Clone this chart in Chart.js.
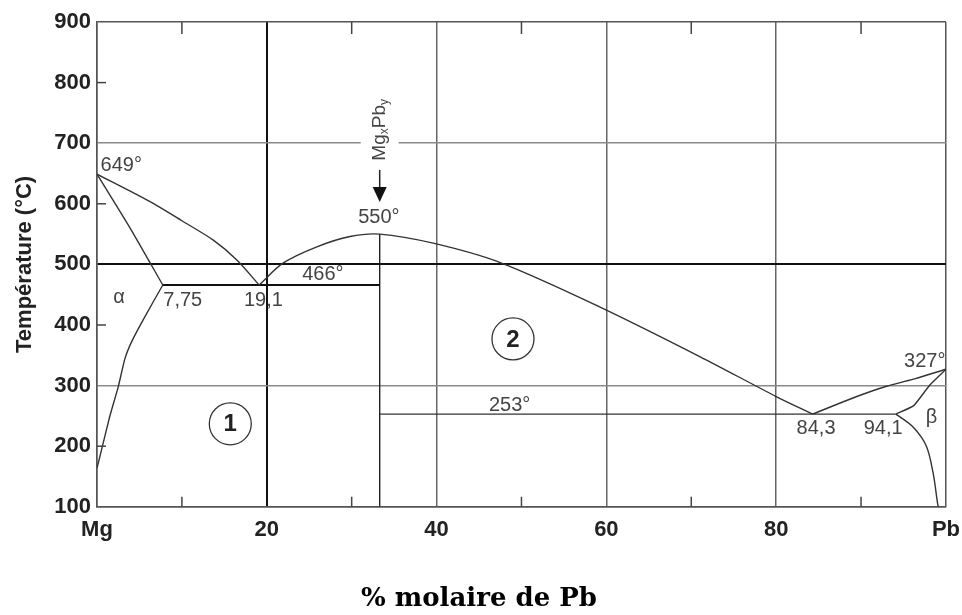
<!DOCTYPE html>
<html>
<head>
<meta charset="utf-8">
<script src="https://cdn.jsdelivr.net/npm/chart.js@4.4.0/dist/chart.umd.min.js"></script>
<style>
  html, body { margin: 0; background: #fff; }
</style>
</head>
<body>
<canvas id="phase" width="962" height="615"></canvas>
<script>
// axis labels
const xTickLabels = ['Mg', '20', '40', '60', '80', 'Pb'];
const minorX = [10, 30, 50, 70, 90];
const minorY = [200, 400, 600, 800];

// phase boundaries [% Pb, °C]
const liquidusMg = [[0, 649], [6.2, 604], [10, 572], [13.7, 540], [16.5, 507], [19.1, 466]];
const solidusAlpha = [[0, 649], [3.9, 560], [7.75, 466]];
const solvusAlpha = [[0, 164], [0.15, 172], [1.5, 249], [2.5, 298], [3.3, 345], [4.1, 373], [5.45, 409], [7.75, 466]];
const liquidusMid = [[19.1, 466], [21.9, 502], [25.9, 529], [29.8, 546], [33.3, 550], [39.6, 535], [47.5, 503], [59.2, 430], [71, 348], [80, 282], [84.3, 253]];
const liquidusPb = [[84.3, 253], [89.5, 282], [93, 299], [96.5, 312], [100, 327]];
const solidusBeta = [[94.1, 253], [96.2, 267], [98.1, 301], [100, 327]];
const solvusBeta = [[94.1, 253], [96.1, 232], [97.7, 200], [98.5, 155], [99.0, 107], [99.1, 100]];
const eutectic466 = [[7.75, 466], [33.3, 466]];
const eutectic253 = [[33.3, 253], [94.1, 253]];
const compoundLine = [[33.3, 100], [33.3, 550]];

// annotations (data coordinates)
const noteText = ['649°', '7,75', '19,1', '466°', '550°', '253°', '84,3', '94,1', '327°', 'α', 'β'];
const noteX = [2.85, 10.1, 19.6, 26.6, 33.2, 48.6, 84.7, 92.6, 97.5, 2.6, 98.3];
const noteY = [663, 441, 440, 484, 577, 268, 230, 230, 339, 445, 247];
const zoneText = ['1', '2'];
const zoneX = [15.7, 49.0];
const zoneY = [237, 377];
const compoundX = 33.3;
const compoundLabelY = 722;
const arrowY = [656, 603];

const pts = arr => arr.map(([a, b]) => ({ x: a, y: b }));

function line(data, color, width, tension) {
  return {
    data: pts(data),
    showLine: true,
    borderColor: color,
    borderWidth: width,
    pointRadius: 0,
    tension: tension
  };
}

const phaseNotes = {
  id: 'phaseNotes',
  afterDatasetsDraw(chart) {
    const { ctx, chartArea: a } = chart;
    const x = chart.scales.x, y = chart.scales.y;
    ctx.save();

    // inner minor ticks
    ctx.strokeStyle = '#444';
    ctx.lineWidth = 1.5;
    minorX.forEach(v => {
      const px = x.getPixelForValue(v);
      ctx.beginPath();
      ctx.moveTo(px, a.bottom); ctx.lineTo(px, a.bottom - 10);
      ctx.moveTo(px, a.top); ctx.lineTo(px, a.top + 12);
      ctx.stroke();
    });
    minorY.forEach(v => {
      const py = y.getPixelForValue(v);
      ctx.beginPath();
      ctx.moveTo(a.left, py); ctx.lineTo(a.left + 9, py);
      ctx.stroke();
    });

    // point labels
    ctx.font = '20px "Liberation Sans", Arial, sans-serif';
    ctx.fillStyle = '#444';
    ctx.textAlign = 'center';
    ctx.textBaseline = 'middle';
    noteText.forEach((t, i) => {
      ctx.fillText(t, x.getPixelForValue(noteX[i]), y.getPixelForValue(noteY[i]));
    });

    // numbered zones
    zoneText.forEach((t, i) => {
      const px = x.getPixelForValue(zoneX[i]), py = y.getPixelForValue(zoneY[i]);
      ctx.beginPath();
      ctx.arc(px, py, 21, 0, Math.PI * 2);
      ctx.strokeStyle = '#333';
      ctx.lineWidth = 1.3;
      ctx.stroke();
      ctx.font = 'bold 24px "Liberation Sans", Arial, sans-serif';
      ctx.fillStyle = '#222';
      ctx.fillText(t, px, py + 1);
    });

    // MgxPby label, written upwards, with arrow
    const cx = x.getPixelForValue(compoundX);
    const cy = y.getPixelForValue(compoundLabelY);
    const big = '19px "Liberation Sans", Arial, sans-serif';
    const small = '12px "Liberation Sans", Arial, sans-serif';
    const parts = [['Mg', big, 0], ['x', small, 5], ['Pb', big, 0], ['y', small, 5]];
    let w = 0;
    parts.forEach(p => { ctx.font = p[1]; p.push(ctx.measureText(p[0]).width); w += p[3]; });
    ctx.save();
    ctx.translate(cx, cy);
    ctx.rotate(-Math.PI / 2);
    ctx.fillStyle = '#fff';
    ctx.fillRect(-w / 2 - 4, -19, w + 8, 38);
    ctx.fillStyle = '#444';
    ctx.textAlign = 'left';
    let lx = -w / 2;
    parts.forEach(p => {
      ctx.font = p[1];
      ctx.fillText(p[0], lx, p[2]);
      lx += p[3];
    });
    ctx.restore();

    const ay0 = y.getPixelForValue(arrowY[0]);
    const ay1 = y.getPixelForValue(arrowY[1]);
    const headTop = ay1 - 15;
    ctx.strokeStyle = '#222';
    ctx.lineWidth = 1.5;
    ctx.beginPath();
    ctx.moveTo(cx, ay0); ctx.lineTo(cx, headTop);
    ctx.stroke();
    ctx.fillStyle = '#111';
    ctx.beginPath();
    ctx.moveTo(cx - 7, headTop); ctx.lineTo(cx + 7, headTop); ctx.lineTo(cx, ay1);
    ctx.closePath();
    ctx.fill();

    ctx.restore();
  }
};

const xGridColor = c => {
  const v = c.tick.value;
  if (v === 20) return '#111';
  if (v === 0 || v === 100) return '#555';
  return '#666';
};
const yGridColor = c => {
  const v = c.tick.value;
  if (v === 500) return '#111';
  if (v === 300 || v === 700) return '#8a8a8a';
  if (v === 100 || v === 900) return '#555';
  return 'rgba(0,0,0,0)';
};

new Chart(document.getElementById('phase'), {
  type: 'scatter',
  data: {
    datasets: [
      line(liquidusMg, '#333', 1.4, 0.3),
      line(solidusAlpha, '#333', 1.4, 0.2),
      line(solvusAlpha, '#333', 1.4, 0.2),
      line(liquidusMid, '#333', 1.4, 0.3),
      line(liquidusPb, '#333', 1.4, 0.2),
      line(solidusBeta, '#333', 1.4, 0.15),
      line(solvusBeta, '#333', 1.4, 0.3),
      line(eutectic466, '#111', 2, 0),
      line(eutectic253, '#333', 1.2, 0),
      line(compoundLine, '#222', 1.4, 0)
    ]
  },
  options: {
    responsive: false,
    animation: false,
    layout: { padding: { left: 12, right: 16, top: 22, bottom: 0 } },
    plugins: {
      legend: { display: false },
      tooltip: { enabled: false },
      title: {
        display: true,
        position: 'bottom',
        text: '% molaire de Pb',
        color: '#000',
        font: { family: '"DejaVu Serif", serif', weight: 'bold', size: 26 },
        padding: { top: 0, bottom: 0 }
      }
    },
    scales: {
      x: {
        type: 'linear',
        min: 0,
        max: 100,
        afterFit: s => { s.height = 77; },
        ticks: {
          stepSize: 20,
          autoSkip: false,
          maxRotation: 0,
          padding: 2,
          color: '#222',
          font: { family: '"Liberation Sans", Arial, sans-serif', weight: 'bold', size: 22, lineHeight: 1.93 },
          callback: v => xTickLabels[Math.round(v / 20)]
        },
        grid: { color: xGridColor, lineWidth: c => (c.tick.value === 20 ? 2 : 1.5), drawTicks: false },
        border: { color: '#555', width: 1.5 }
      },
      y: {
        min: 100,
        max: 900,
        afterFit: s => { s.width = 85; },
        ticks: {
          stepSize: 100,
          padding: 6,
          color: '#222',
          font: { family: '"Liberation Sans", Arial, sans-serif', weight: 'bold', size: 22 }
        },
        grid: { color: yGridColor, lineWidth: c => (c.tick.value === 500 ? 2 : 1.5), drawTicks: false },
        border: { color: '#555', width: 1.5 },
        title: {
          display: true,
          text: 'Température (°C)',
          color: '#222',
          font: { family: '"Liberation Sans", Arial, sans-serif', weight: 'bold', size: 22 },
          padding: { top: 0, bottom: 0 }
        }
      }
    }
  },
  plugins: [phaseNotes]
});
</script>
</body>
</html>
